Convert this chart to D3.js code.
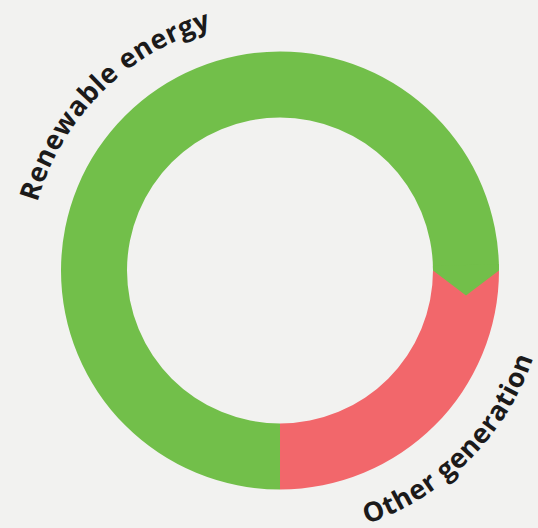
<!DOCTYPE html>
<html>
<head>
<meta charset="utf-8">
<script src="https://cdn.jsdelivr.net/npm/d3@7"></script>
<style>
  html, body { margin: 0; padding: 0; background: #f2f2f0; }
  svg { display: block; }
  .label { font-family: "Open Sans", Inter, sans-serif; font-weight: 700; font-size: 27px; letter-spacing: 0.6px; fill: #1b1a1a; }
</style>
</head>
<body>
<div id="chart"></div>
<script>
// shares of generation
var categories = ["Renewable energy", "Other generation"];
var values = [75, 25];
var colors = ["#72bf4a", "#f2676b"];

var width = 538, height = 528;
var cx = 280, cy = 270.5;
var outerR = 219, innerR = 153;
var arrowLen = 25;

var svg = d3.select("#chart")
    .append("svg")
    .attr("width", width)
    .attr("height", height);

var g = svg.append("g")
    .attr("transform", "translate(" + cx + "," + cy + ")");

var pie = d3.pie()
    .sort(null)
    .value(function (d) { return d; })
    .startAngle(Math.PI)
    .endAngle(3 * Math.PI);

var arcs = pie(values);

var arc = d3.arc()
    .innerRadius(innerR)
    .outerRadius(outerR);

// draw later slices first so the arrow tip of the first one sits on top
g.selectAll("path.slice")
    .data(arcs.slice().reverse())
    .enter()
    .append("path")
    .attr("class", "slice")
    .attr("d", arc)
    .attr("fill", function (d) { return colors[d.index]; });

// arrow tip at the end of the first slice (overlaps back a little to hide the seam)
var a = arcs[0].endAngle;
var back = 0.03;
var midR = (innerR + outerR) / 2;
var tipR = Math.sqrt(midR * midR + arrowLen * arrowLen);
var tipA = a + Math.atan(arrowLen / midR);
var tri = [
    d3.pointRadial(a - back, outerR),
    d3.pointRadial(a, outerR),
    d3.pointRadial(tipA, tipR),
    d3.pointRadial(a, innerR),
    d3.pointRadial(a - back, innerR)
];
g.append("path")
    .attr("d", "M" + tri.join("L") + "Z")
    .attr("fill", colors[0]);

// curved labels
var labelR = [252, 268];
arcs.forEach(function (d, i) {
    var mid = (d.startAngle + d.endAngle) / 2 - Math.PI / 2;
    var half = Math.PI * 0.45;
    var p = d3.path();
    // upper labels run clockwise, lower ones counter-clockwise so they stay readable
    var upper = Math.sin(mid) < 0;
    if (upper) {
        p.arc(0, 0, labelR[i], mid - half, mid + half, false);
    } else {
        p.arc(0, 0, labelR[i], mid + half, mid - half, true);
    }
    g.append("path")
        .attr("id", "lp" + i)
        .attr("d", p.toString())
        .attr("fill", "none");
    g.append("text")
        .attr("class", "label")
        .append("textPath")
        .attr("href", "#lp" + i)
        .attr("startOffset", "50%")
        .attr("text-anchor", "middle")
        .text(categories[i]);
});
</script>
</body>
</html>
